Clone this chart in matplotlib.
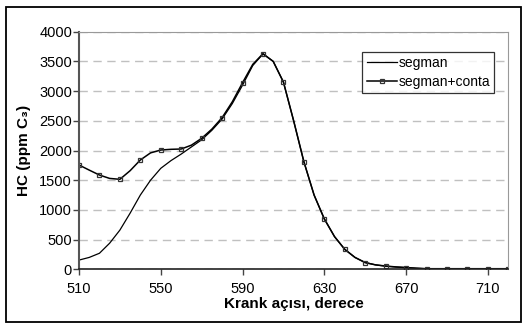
import matplotlib
matplotlib.use("Agg")
import matplotlib.pyplot as plt
from matplotlib.patches import Rectangle

plt.rcParams['font.family'] = ['Liberation Sans', 'DejaVu Sans']

# crank angle, read at 5 deg steps
angle = [510, 515, 520, 525, 530, 535, 540, 545, 550, 555, 560, 565, 570, 575,
         580, 585, 590, 595, 600, 605, 610, 615, 620, 625, 630, 635, 640, 645,
         650, 655, 660, 665, 670, 675, 680, 685, 690, 695, 700, 705, 710, 715, 720]
segman = [155, 200, 270, 440, 660, 945, 1250, 1500, 1700, 1830, 1940, 2060, 2180, 2340,
          2530, 2790, 3100, 3430, 3625, 3500, 3150, 2500, 1810, 1250, 850, 550, 336, 200,
          115, 75, 52, 38, 28, 18, 10, 10, 10, 10, 10, 10, 10, 10, 10]
segman_conta = [1756, 1670, 1587, 1530, 1515, 1660, 1840, 1960, 2008, 2020, 2025, 2090, 2205, 2360,
                2553, 2820, 3141, 3450, 3630, 3500, 3153, 2500, 1812, 1250, 847, 550, 336, 200,
                112, 75, 55, 40, 30, 18, 10, 10, 10, 10, 10, 10, 10, 10, 10]
xticks = [510, 550, 590, 630, 670, 710]
yticks = [0, 500, 1000, 1500, 2000, 2500, 3000, 3500, 4000]

fig = plt.figure(figsize=(5.23, 3.25), dpi=100)
ax = fig.add_axes([79 / 523, 1 - 269.3 / 325, (508.3 - 79) / 523, (269.3 - 31.7) / 325])

# outer frame of the chart
fig.patches.append(Rectangle((6 / 523, 1 - 322 / 325), 515 / 523, 315 / 325,
                             transform=fig.transFigure, fill=False, ec="black", lw=1.3))

ax.plot(angle, segman, color="black", lw=0.9, label="segman")
ax.plot(angle, segman_conta, color="black", lw=1.1, marker="s", markevery=2, ms=3.4,
        mfc="none", mec="#333333", mew=0.9, label="segman+conta")

ax.set_xlim(510, 720)
ax.set_ylim(0, 4000)
ax.set_xticks(xticks)
ax.set_yticks(yticks)
ax.tick_params(labelsize=10.5, length=4, width=1, color="#444444", direction="out")
ax.tick_params(axis="y", pad=1)
ax.tick_params(axis="x", pad=5)
ax.grid(axis="y", color="#c0c0c0", ls=(0, (6, 4)), lw=1)
ax.set_axisbelow(True)

ax.spines["left"].set_color("#555555")
ax.spines["left"].set_linewidth(1.5)
ax.spines["bottom"].set_color("#222222")
ax.spines["bottom"].set_linewidth(1.2)
ax.spines["top"].set_color("#999999")
ax.spines["right"].set_color("#999999")

ax.set_xlabel("Krank açısı, derece", fontsize=11, fontweight="bold", labelpad=1)
ax.set_ylabel("HC (ppm C₃)", fontsize=11, fontweight="bold", labelpad=6)

leg = ax.legend(loc="upper left", bbox_to_anchor=(0.66, 0.915), fontsize=10, frameon=True,
                fancybox=False, edgecolor="black", handlelength=2.2, handletextpad=0.1,
                borderpad=0.3, labelspacing=0.35, borderaxespad=0)
leg.get_frame().set_linewidth(0.9)

plt.savefig("out.png", dpi=100)
